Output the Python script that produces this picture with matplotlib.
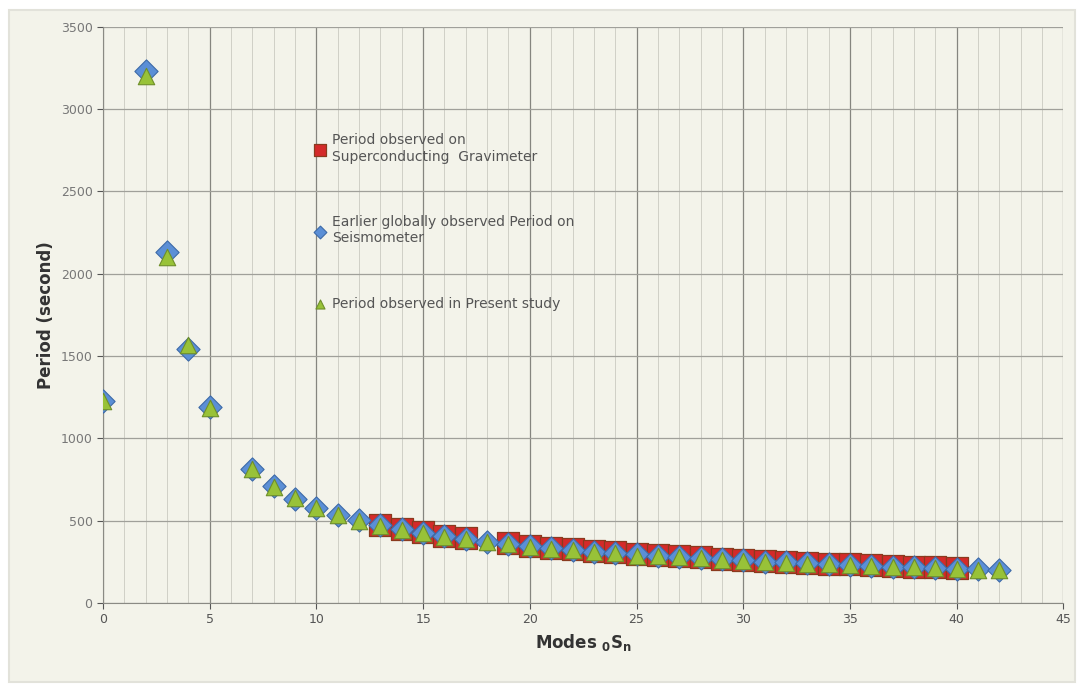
import numpy as np
import matplotlib
matplotlib.use("Agg")
from matplotlib import pyplot as plt
from matplotlib.patches import Rectangle

# mode numbers n of 0Sn
modes = [0, 2, 3, 4, 5, 7, 8, 9, 10, 11, 12, 13, 14, 15, 16, 17, 18, 19, 20,
         21, 22, 23, 24, 25, 26, 27, 28, 29, 30, 31, 32, 33, 34, 35, 36, 37,
         38, 39, 40, 41, 42]

# earlier globally observed period on seismometer (s)
seis = [1227, 3233, 2134, 1546, 1190, 812, 708, 634, 580, 537, 502, 474,
        448, 426, 406, 388, 372, 358, 345, 333, 323, 313, 303, 295, 287,
        279, 272, 265, 259, 252, 247, 241, 236, 231, 226, 221, 217, 212,
        208, 204, 201]

# present study (s)
present = [1230, 3200, 2100, 1565, 1185, 815, 705, 635, 578, 533, 498, 470,
           445, 423, 404, 386, 370, 356, 343, 331, 321, 311, 302, 285, 286,
           278, 271, 264, 258, 251, 246, 240, 235, 230, 225, 220, 216, 211,
           207, 203, 200]

# superconducting gravimeter (s)
sg_modes = [13, 14, 15, 16, 17, 19, 20, 21, 22, 23, 24, 25, 26, 27, 28, 29,
            30, 31, 32, 33, 34, 35, 36, 37, 38, 39, 40]
sg = [476, 452, 430, 410, 392, 362, 348, 337, 327, 317, 308, 300, 292,
      284, 277, 270, 264, 257, 251, 245, 240, 235, 230, 225, 221, 217, 213]

bg = "#f3f3ea"
fig = plt.figure(figsize=(10.84, 6.88), dpi=100, facecolor="white")
fig.patches.append(Rectangle((0.008, 0.008), 0.984, 0.977, transform=fig.transFigure,
                             facecolor=bg, edgecolor="#e2e2da", lw=1.5, zorder=-1))
ax = fig.add_axes([0.095, 0.1235, 0.886, 0.8375])
ax.set_facecolor(bg)

ax.scatter(sg_modes, sg, marker="s", s=270, c="#d42a2a", edgecolors="#8a3a1e",
           linewidths=0.9, zorder=3, label="Period observed on\nSuperconducting  Gravimeter")
ax.scatter(modes, seis, marker="D", s=140, c="#5b8fd6", edgecolors="#3d6aa8",
           linewidths=0.8, zorder=4, label="Earlier globally observed Period on\nSeismometer")
ax.scatter(modes, present, marker="^", s=140, c="#98c238", edgecolors="#6f8f2a",
           linewidths=0.8, zorder=5, label="Period observed in Present study")

ax.set_xlim(0, 45)
ax.set_ylim(0, 3500)
ax.set_xticks(np.arange(0, 46, 5))
ax.set_xticks(np.arange(0, 46, 1), minor=True)
ax.set_yticks(np.arange(0, 3501, 500))
ax.grid(True, which="major", axis="y", color="#a0a09a", lw=0.9)
ax.grid(True, which="major", axis="x", color="#85857f", lw=0.9)
ax.grid(True, which="minor", axis="x", color="#cfcfc6", lw=0.7)
ax.set_axisbelow(True)
for s in ["top", "right"]:
    ax.spines[s].set_visible(False)
ax.spines["left"].set_color("#8a8a84")
ax.spines["bottom"].set_color("#8a8a84")
ax.tick_params(axis="both", which="major", labelsize=9, colors="#555555", length=4)
ax.tick_params(axis="y", labelcolor="#777777")
ax.tick_params(axis="both", which="minor", length=0)

ax.set_xlabel(r"Modes $_{\mathbf{0}}\mathbf{S}_{\mathbf{n}}$", fontsize=12,
              fontweight="bold", color="#333333")
ax.set_ylabel("Period (second)", fontsize=12, fontweight="bold", color="#333333")

ax.legend(loc="upper left", bbox_to_anchor=(0.22, 0.815), frameon=False,
          fontsize=10, labelspacing=3.7, handletextpad=0.5, handlelength=0.8,
          borderpad=0, borderaxespad=0, markerscale=0.55, labelcolor="#555555")

fig.savefig("out.png", dpi=100, facecolor="white")
